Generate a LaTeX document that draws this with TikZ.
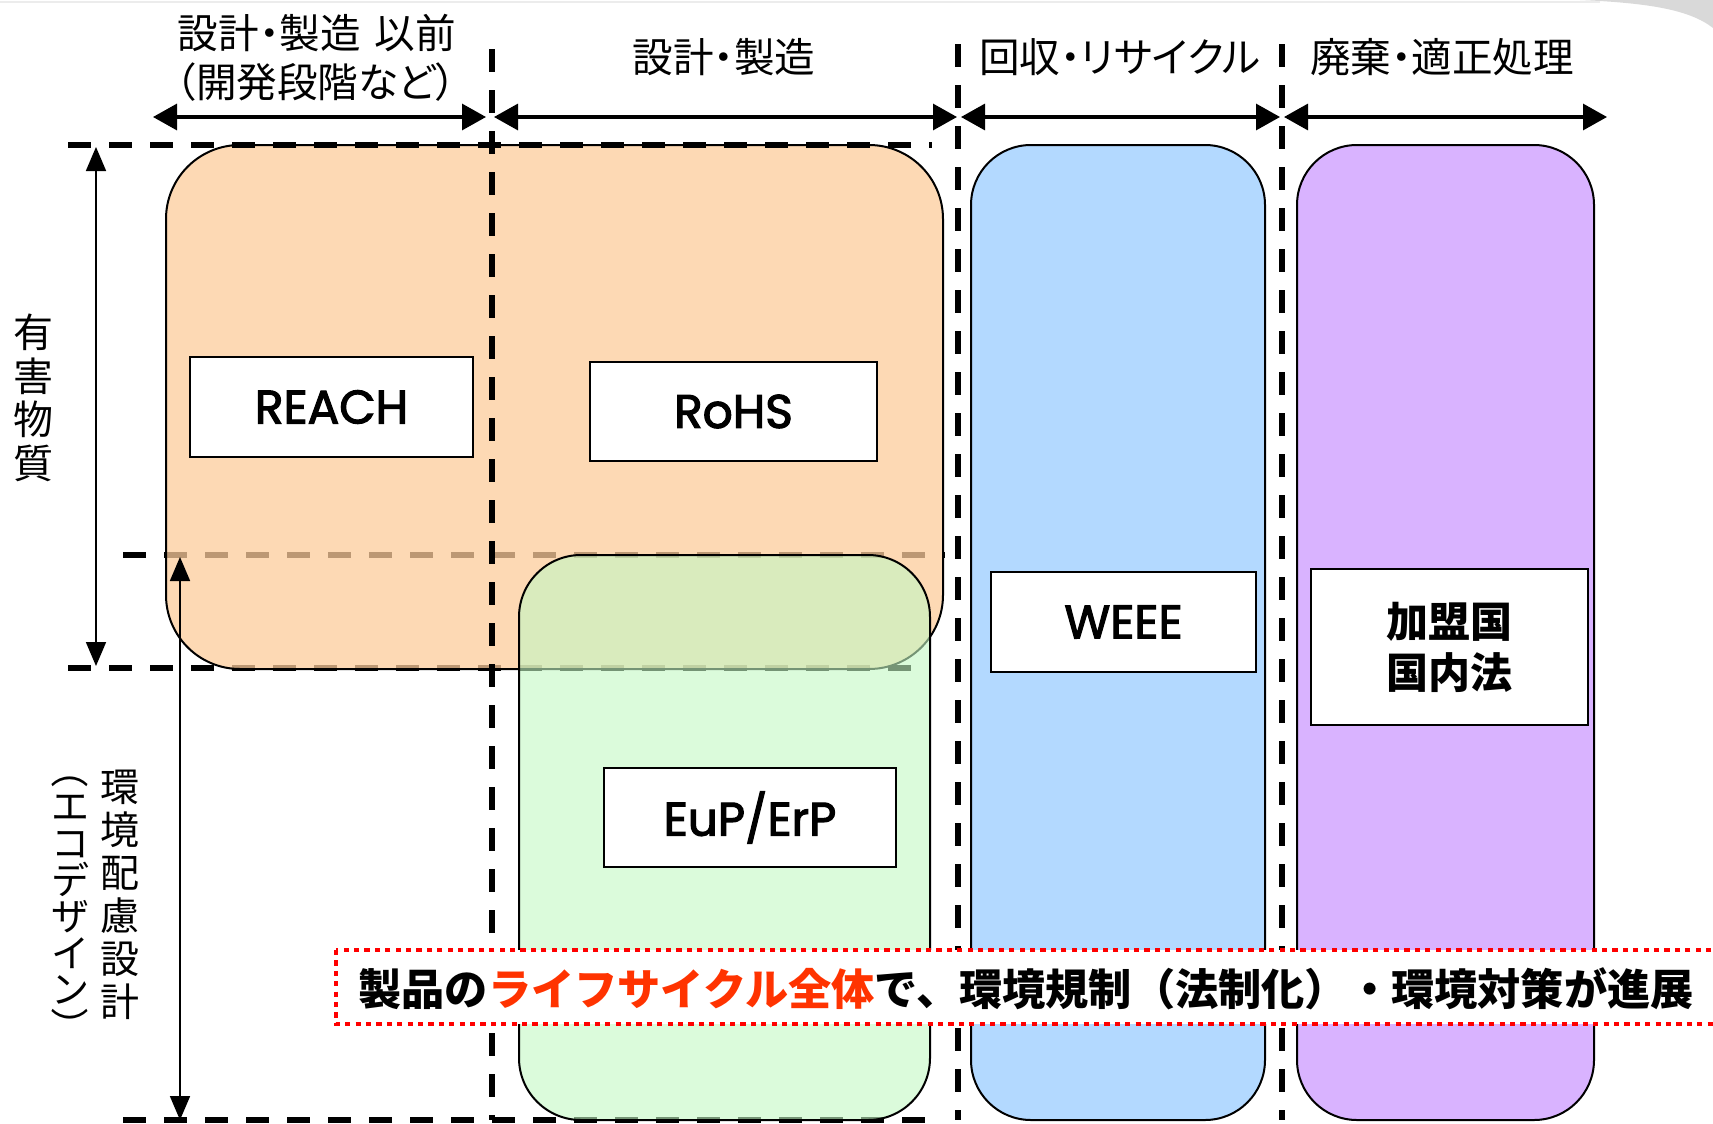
\documentclass[tikz,border=0pt]{standalone}
\usepackage{fontspec}
\usepackage{graphicx}
\setmainfont{Noto Sans CJK JP}
\newfontfamily\jp{Noto Sans CJK JP}
\newfontfamily\jpp[RawFeature=+palt]{Noto Sans CJK JP}
\newfontfamily\lat[FakeBold=2.5]{Poppins}
\usetikzlibrary{arrows.meta}
\definecolor{orangefill}{RGB}{252,204,155}
\definecolor{greenfill}{RGB}{195,248,195}
\definecolor{bluefill}{RGB}{179,217,255}
\definecolor{purplefill}{RGB}{217,179,255}
\definecolor{lcred}{RGB}{255,51,0}
\tikzset{
  hdash/.style={line width=3pt, dash pattern=on 11.5pt off 9pt},
  vdash/.style={line width=3pt, dash pattern=on 11.5pt off 9pt},
  harrow/.style={line width=1.6pt, {Triangle[length=12pt,width=13pt]}-{Triangle[length=12pt,width=13pt]}},
  varrow/.style={line width=0.9pt, {Triangle[length=12pt,width=10pt]}-{Triangle[length=12pt,width=10pt]}},
  lbox/.style={draw, line width=1.4pt, fill=white, inner sep=0pt, font=\lat\fontsize{23.5}{27}\selectfont},
  hdr/.style={inner sep=0pt, font=\jpp\fontsize{20.3}{24}\selectfont},
  vlab/.style={inner sep=0pt, align=center},
  bigbox/.style={draw, line width=1pt},
}
\begin{document}
\begin{tikzpicture}[x=0.5pt,y=-0.5pt]
\useasboundingbox (0,0) rectangle (1713,1124);
\clip (0,0) rectangle (1713,1124);
% slide edge decoration
\fill[gray!30] (1580,0) .. controls (1650,3) and (1690,10) .. (1713,28) -- (1713,0) -- cycle;
\draw[gray!15, line width=1pt] (0,1.5) -- (1600,1.5);
% horizontal dashed lines (under boxes)
\draw[hdash] (123,555) -- (945,555);
\draw[hdash] (68,668) -- (931,668);
\draw[hdash] (123,1120) -- (931,1120);
% big boxes
\draw[bigbox, fill=orangefill, fill opacity=0.75, rounded corners=37pt] (166,145) rectangle (943,669);
\draw[bigbox, fill=greenfill, fill opacity=0.6, rounded corners=31pt] (519,555) rectangle (930,1120);
\draw[bigbox, fill=bluefill, rounded corners=30pt] (971,145) rectangle (1265,1120);
\draw[bigbox, fill=purplefill, rounded corners=30pt] (1297,145) rectangle (1594,1120);
% top dashed line
\draw[hdash] (68,145) -- (932,145);
% vertical dashed lines
\draw[vdash] (492,49) -- (492,1120);
\draw[vdash] (958,44) -- (958,1120);
\draw[vdash] (1282,44) -- (1282,1120);
% inner label boxes
\node[lbox, minimum width=141.5pt, minimum height=50pt] (reach) at (331.5,407) {\raisebox{-1pt}{REACH}};
\node[lbox, minimum width=143.5pt, minimum height=49.5pt] (rohs) at (733.5,411.5) {\raisebox{-1pt}{RoHS}};
\node[lbox, minimum width=146pt, minimum height=49.5pt] (eup) at (750,817.5) {\raisebox{-1pt}{EuP/ErP}};
\node[lbox, minimum width=132.5pt, minimum height=50pt] (weee) at (1123.5,622) {\raisebox{-1pt}{WEEE}};
\node[lbox, minimum width=138.5pt, minimum height=78pt, align=left, font=\jp\bfseries\fontsize{21}{25.5}\selectfont] (kameikoku) at (1449.5,647) {加盟国\\国内法};
% horizontal arrows
\coordinate (a1l) at (153,117); \coordinate (a1r) at (486,117);
\coordinate (a2l) at (494,117); \coordinate (a2r) at (957,117);
\coordinate (a3l) at (961,117); \coordinate (a3r) at (1280,117);
\coordinate (a4l) at (1284,117); \coordinate (a4r) at (1607,117);
\draw[harrow] (a1l) -- (a1r);
\draw[harrow] (a2l) -- (a2r);
\draw[harrow] (a3l) -- (a3r);
\draw[harrow] (a4l) -- (a4r);
% vertical arrows
\coordinate (v1t) at (96,147); \coordinate (v1b) at (96,666);
\coordinate (v2t) at (180,557); \coordinate (v2b) at (180,1120);
\draw[varrow] (v1t) -- (v1b);
\draw[varrow] (v2t) -- (v2b);
% headers
\node[hdr] (h1a) at (317,33) {設計・製造\hspace{0.35em}以前};
\node[hdr] (h1b) at (316,82) {（開発段階など）};
\node[hdr] (h2) at (724,57) {設計・製造};
\node[hdr] (h3) at (1120,57) {回収・リサイクル};
\node[hdr] (h4) at (1442,57) {廃棄・適正処理};
% vertical labels
\node[vlab, font=\jp\fontsize{20}{21.85}\selectfont] (yugai) at (33,398) {有\\害\\物\\質};
\node[vlab, font=\jp\fontsize{19.5}{21.5}\selectfont] (kankyo) at (120,895) {環\\境\\配\\慮\\設\\計};
\node[vlab, font=\jp\fontsize{19}{18.3}\selectfont] (eco) at (70,898) {\rotatebox[origin=c]{-90}{（}\\エ\\コ\\デ\\ザ\\イ\\ン\\\rotatebox[origin=c]{-90}{）}};
% red message
\draw[red, line width=2.2pt, dash pattern=on 2.6pt off 2.6pt, fill=white] (336,950) rectangle (1740,1024);
\node[anchor=west, inner sep=0pt, font=\jp\bfseries\fontsize{21.6}{25}\selectfont] (msg) at (358,989) {製品の\textcolor{lcred}{ライフサイクル全体}で、環境規制（法制化）・環境対策が進展};
\end{tikzpicture}
\end{document}
